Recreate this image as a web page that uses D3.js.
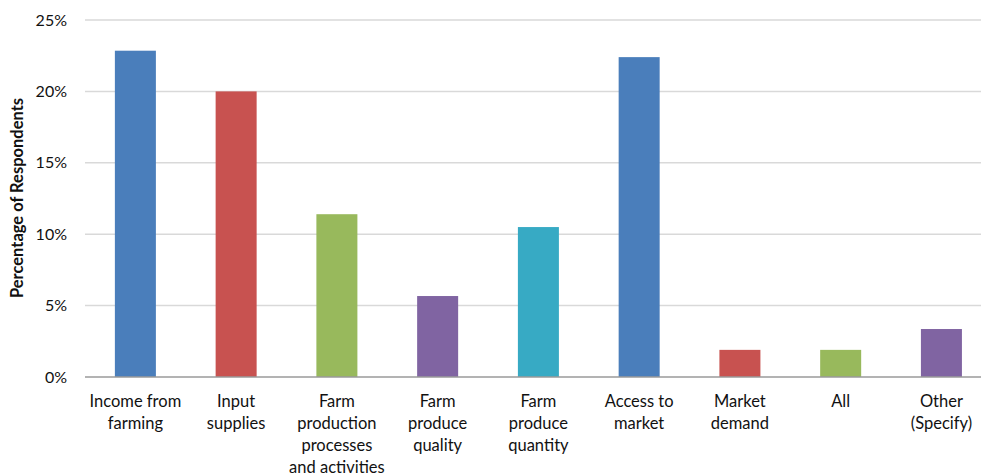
<!DOCTYPE html>
<html><head><meta charset="utf-8">
<script src="https://cdn.jsdelivr.net/npm/d3@7"></script>
<style>body{margin:0;background:#fff}svg{display:block}</style>
</head><body>
<svg id="c" width="981" height="475"></svg>
<script>
const categories = [
  ["Income from","farming"],
  ["Input","supplies"],
  ["Farm","production","processes","and activities"],
  ["Farm","produce","quality"],
  ["Farm","produce","quantity"],
  ["Access to","market"],
  ["Market","demand"],
  ["All"],
  ["Other","(Specify)"]
];
const values = [22.85, 20.0, 11.4, 5.67, 10.5, 22.4, 1.9, 1.9, 3.36];
const colors = ["#4a7ebb","#c85250","#98b95c","#8064a2","#37aac4","#4a7ebb","#c85250","#98b95c","#8064a2"];
const yTicks = [0,5,10,15,20,25];
const yTitle = "Percentage of Respondents";

const svg = d3.select("#c");
const font = "Lato, 'Open Sans', sans-serif";
const x = d3.scaleBand().domain(d3.range(values.length)).range([85, 991.8]).paddingInner(0.593).paddingOuter(0.2965);
const y = d3.scaleLinear().domain([0,25]).range([377,20]);

// gridlines
svg.append("g").selectAll("line").data(yTicks.filter(d=>d>0)).join("line")
  .attr("x1",85).attr("x2",981).attr("y1",d=>y(d)).attr("y2",d=>y(d))
  .attr("stroke","#d9d9d9").attr("stroke-width",1.5);

// y axis labels
const yAxis = d3.axisLeft(y).tickValues(yTicks).tickFormat(d=>d+"%").tickSize(0).tickPadding(0);
const ya = svg.append("g").attr("transform","translate(67,0)").call(yAxis);
ya.select(".domain").remove();
ya.selectAll("text").attr("font-family",font).attr("font-size",16).attr("fill","#111");

// bars
svg.append("g").selectAll("rect").data(values).join("rect")
  .attr("x",(d,i)=>x(i)).attr("width",x.bandwidth())
  .attr("y",d=>y(d)).attr("height",d=>y(0)-y(d))
  .attr("fill",(d,i)=>colors[i]);

// baseline
svg.append("line").attr("x1",85).attr("x2",981).attr("y1",y(0)).attr("y2",y(0))
  .attr("stroke","#9a9a9a").attr("stroke-width",1.5);

// category labels
const xl = svg.append("g");
categories.forEach((lines,i)=>{
  const t = xl.append("text").attr("text-anchor","middle")
    .attr("font-family",font).attr("font-size",16.5).attr("fill","#111");
  lines.forEach((s,j)=>{
    t.append("tspan").attr("x",x(i)+x.bandwidth()/2).attr("y",407+j*22).text(s);
  });
});

// y title
svg.append("text").attr("transform","translate(23,198) rotate(-90)")
  .attr("text-anchor","middle").attr("font-family",font).attr("font-weight","bold")
  .attr("font-size",16.5).attr("fill","#111").text(yTitle);
</script>
</body></html>
